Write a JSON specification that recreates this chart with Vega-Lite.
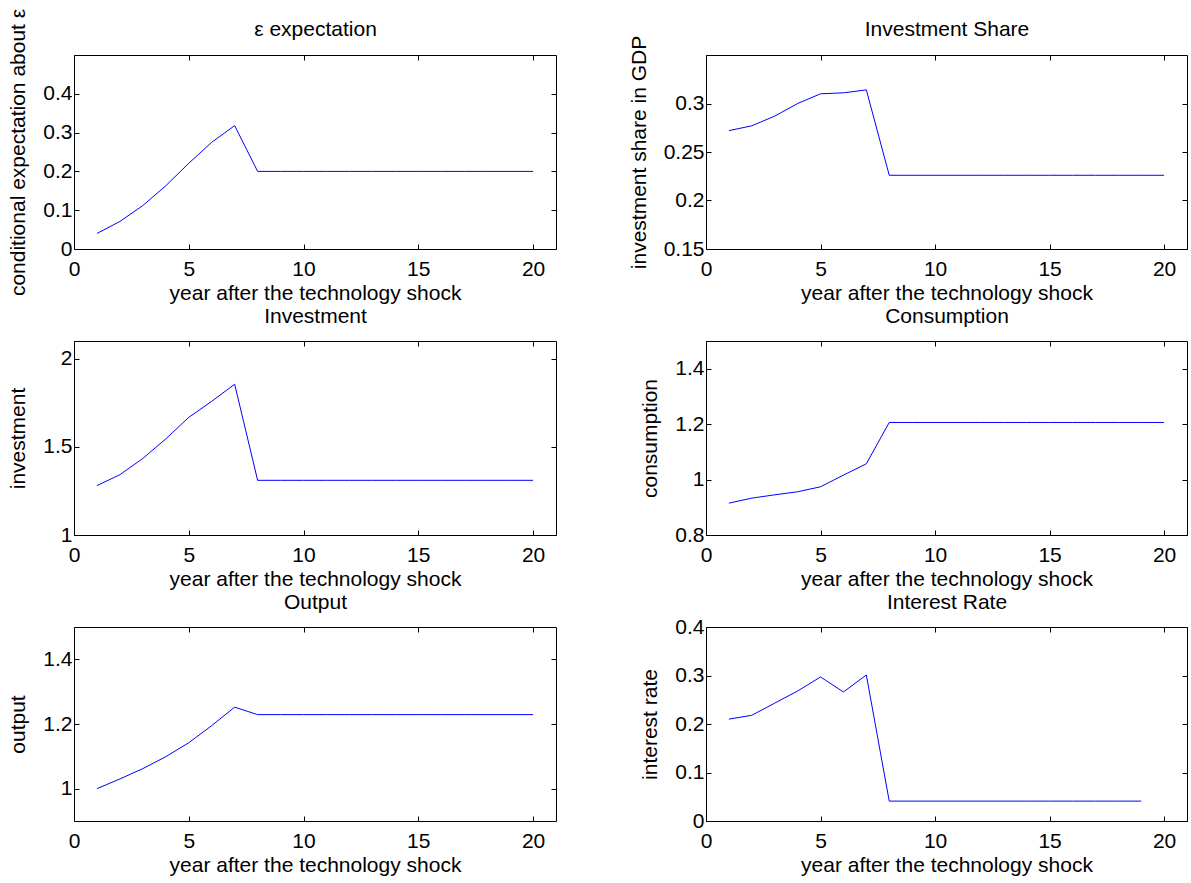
{
  "$schema": "https://vega.github.io/schema/vega-lite/v6.json",
  "background": "white",
  "padding": {"left": 7, "top": 7, "right": 5, "bottom": 5},
  "datasets": {
    "eps": [{"year":1,"v":0.040},{"year":2,"v":0.071},{"year":3,"v":0.112},{"year":4,"v":0.163},{"year":5,"v":0.221},{"year":6,"v":0.275},{"year":7,"v":0.318},{"year":8,"v":0.200},{"year":9,"v":0.200},{"year":10,"v":0.200},{"year":11,"v":0.200},{"year":12,"v":0.200},{"year":13,"v":0.200},{"year":14,"v":0.200},{"year":15,"v":0.200},{"year":16,"v":0.200},{"year":17,"v":0.200},{"year":18,"v":0.200},{"year":19,"v":0.200},{"year":20,"v":0.200}],
    "share": [{"year":1,"v":0.272},{"year":2,"v":0.277},{"year":3,"v":0.287},{"year":4,"v":0.300},{"year":5,"v":0.310},{"year":6,"v":0.311},{"year":7,"v":0.314},{"year":8,"v":0.226},{"year":9,"v":0.226},{"year":10,"v":0.226},{"year":11,"v":0.226},{"year":12,"v":0.226},{"year":13,"v":0.226},{"year":14,"v":0.226},{"year":15,"v":0.226},{"year":16,"v":0.226},{"year":17,"v":0.226},{"year":18,"v":0.226},{"year":19,"v":0.226},{"year":20,"v":0.226}],
    "inv": [{"year":1,"v":1.280},{"year":2,"v":1.342},{"year":3,"v":1.434},{"year":4,"v":1.545},{"year":5,"v":1.667},{"year":6,"v":1.758},{"year":7,"v":1.855},{"year":8,"v":1.310},{"year":9,"v":1.310},{"year":10,"v":1.310},{"year":11,"v":1.310},{"year":12,"v":1.310},{"year":13,"v":1.310},{"year":14,"v":1.310},{"year":15,"v":1.310},{"year":16,"v":1.310},{"year":17,"v":1.310},{"year":18,"v":1.310},{"year":19,"v":1.310},{"year":20,"v":1.310}],
    "cons": [{"year":1,"v":0.915},{"year":2,"v":0.933},{"year":3,"v":0.945},{"year":4,"v":0.956},{"year":5,"v":0.974},{"year":6,"v":1.016},{"year":7,"v":1.057},{"year":8,"v":1.206},{"year":9,"v":1.206},{"year":10,"v":1.206},{"year":11,"v":1.206},{"year":12,"v":1.206},{"year":13,"v":1.206},{"year":14,"v":1.206},{"year":15,"v":1.206},{"year":16,"v":1.206},{"year":17,"v":1.206},{"year":18,"v":1.206},{"year":19,"v":1.206},{"year":20,"v":1.206}],
    "out": [{"year":1,"v":1.000},{"year":2,"v":1.030},{"year":3,"v":1.062},{"year":4,"v":1.099},{"year":5,"v":1.142},{"year":6,"v":1.195},{"year":7,"v":1.252},{"year":8,"v":1.229},{"year":9,"v":1.229},{"year":10,"v":1.229},{"year":11,"v":1.229},{"year":12,"v":1.229},{"year":13,"v":1.229},{"year":14,"v":1.229},{"year":15,"v":1.229},{"year":16,"v":1.229},{"year":17,"v":1.229},{"year":18,"v":1.229},{"year":19,"v":1.229},{"year":20,"v":1.229}],
    "rate": [{"year":1,"v":0.210},{"year":2,"v":0.218},{"year":3,"v":0.243},{"year":4,"v":0.268},{"year":5,"v":0.297},{"year":6,"v":0.266},{"year":7,"v":0.301},{"year":8,"v":0.041},{"year":9,"v":0.041},{"year":10,"v":0.041},{"year":11,"v":0.041},{"year":12,"v":0.041},{"year":13,"v":0.041},{"year":14,"v":0.041},{"year":15,"v":0.041},{"year":16,"v":0.041},{"year":17,"v":0.041},{"year":18,"v":0.041},{"year":19,"v":0.041}]
  },
  "columns": 2,
  "bounds": "flush",
  "spacing": {"row": 92, "column": 150},
  "concat": [
    {
      "width": 482, "height": 194,
      "data": {"name": "eps"},
      "layer": [
        {"mark": {"type": "line", "color": "#0000ff", "strokeWidth": 1},
         "encoding": {
           "x": {"field": "year", "type": "quantitative", "scale": {"domain": [0, 21], "nice": false, "zero": false}, "axis": {"values": [0,5,10,15,20], "title": "year after the technology shock"}},
           "y": {"field": "v", "type": "quantitative", "scale": {"domain": [0, 0.5], "nice": false, "zero": false}, "axis": {"values": [0,0.1,0.2,0.3,0.4], "title": "conditional expectation about ε"}}}},
        {"mark": {"type": "line", "opacity": 0},
         "encoding": {
           "x": {"field": "year", "type": "quantitative", "scale": {"domain": [0, 21], "nice": false, "zero": false}, "axis": {"orient": "top", "values": [0,5,10,15,20], "labels": false, "title": "ε expectation", "titlePadding": 19}},
           "y": {"field": "v", "type": "quantitative", "scale": {"domain": [0, 0.5], "nice": false, "zero": false}, "axis": {"orient": "right", "values": [0,0.1,0.2,0.3,0.4], "labels": false, "title": null}}}}
      ],
      "resolve": {"axis": {"x": "independent", "y": "independent"}}
    },
    {
      "width": 481, "height": 194,
      "data": {"name": "share"},
      "layer": [
        {"mark": {"type": "line", "color": "#0000ff", "strokeWidth": 1},
         "encoding": {
           "x": {"field": "year", "type": "quantitative", "scale": {"domain": [0, 21], "nice": false, "zero": false}, "axis": {"values": [0,5,10,15,20], "title": "year after the technology shock"}},
           "y": {"field": "v", "type": "quantitative", "scale": {"domain": [0.15, 0.35], "nice": false, "zero": false}, "axis": {"values": [0.15,0.2,0.25,0.3], "title": "investment share in GDP"}}}},
        {"mark": {"type": "line", "opacity": 0},
         "encoding": {
           "x": {"field": "year", "type": "quantitative", "scale": {"domain": [0, 21], "nice": false, "zero": false}, "axis": {"orient": "top", "values": [0,5,10,15,20], "labels": false, "title": "Investment Share", "titlePadding": 19}},
           "y": {"field": "v", "type": "quantitative", "scale": {"domain": [0.15, 0.35], "nice": false, "zero": false}, "axis": {"orient": "right", "values": [0.15,0.2,0.25,0.3], "labels": false, "title": null}}}}
      ],
      "resolve": {"axis": {"x": "independent", "y": "independent"}}
    },
    {
      "width": 482, "height": 194,
      "data": {"name": "inv"},
      "layer": [
        {"mark": {"type": "line", "color": "#0000ff", "strokeWidth": 1},
         "encoding": {
           "x": {"field": "year", "type": "quantitative", "scale": {"domain": [0, 21], "nice": false, "zero": false}, "axis": {"values": [0,5,10,15,20], "title": "year after the technology shock"}},
           "y": {"field": "v", "type": "quantitative", "scale": {"domain": [1, 2.1], "nice": false, "zero": false}, "axis": {"values": [1,1.5,2], "title": "investment"}}}},
        {"mark": {"type": "line", "opacity": 0},
         "encoding": {
           "x": {"field": "year", "type": "quantitative", "scale": {"domain": [0, 21], "nice": false, "zero": false}, "axis": {"orient": "top", "values": [0,5,10,15,20], "labels": false, "title": "Investment", "titlePadding": 18}},
           "y": {"field": "v", "type": "quantitative", "scale": {"domain": [1, 2.1], "nice": false, "zero": false}, "axis": {"orient": "right", "values": [1,1.5,2], "labels": false, "title": null}}}}
      ],
      "resolve": {"axis": {"x": "independent", "y": "independent"}}
    },
    {
      "width": 481, "height": 194,
      "data": {"name": "cons"},
      "layer": [
        {"mark": {"type": "line", "color": "#0000ff", "strokeWidth": 1},
         "encoding": {
           "x": {"field": "year", "type": "quantitative", "scale": {"domain": [0, 21], "nice": false, "zero": false}, "axis": {"values": [0,5,10,15,20], "title": "year after the technology shock"}},
           "y": {"field": "v", "type": "quantitative", "scale": {"domain": [0.8, 1.5], "nice": false, "zero": false}, "axis": {"values": [0.8,1,1.2,1.4], "title": "consumption"}}}},
        {"mark": {"type": "line", "opacity": 0},
         "encoding": {
           "x": {"field": "year", "type": "quantitative", "scale": {"domain": [0, 21], "nice": false, "zero": false}, "axis": {"orient": "top", "values": [0,5,10,15,20], "labels": false, "title": "Consumption", "titlePadding": 18}},
           "y": {"field": "v", "type": "quantitative", "scale": {"domain": [0.8, 1.5], "nice": false, "zero": false}, "axis": {"orient": "right", "values": [0.8,1,1.2,1.4], "labels": false, "title": null}}}}
      ],
      "resolve": {"axis": {"x": "independent", "y": "independent"}}
    },
    {
      "width": 482, "height": 194,
      "data": {"name": "out"},
      "layer": [
        {"mark": {"type": "line", "color": "#0000ff", "strokeWidth": 1},
         "encoding": {
           "x": {"field": "year", "type": "quantitative", "scale": {"domain": [0, 21], "nice": false, "zero": false}, "axis": {"values": [0,5,10,15,20], "title": "year after the technology shock"}},
           "y": {"field": "v", "type": "quantitative", "scale": {"domain": [0.9, 1.5], "nice": false, "zero": false}, "axis": {"values": [1,1.2,1.4], "title": "output"}}}},
        {"mark": {"type": "line", "opacity": 0},
         "encoding": {
           "x": {"field": "year", "type": "quantitative", "scale": {"domain": [0, 21], "nice": false, "zero": false}, "axis": {"orient": "top", "values": [0,5,10,15,20], "labels": false, "title": "Output", "titlePadding": 18}},
           "y": {"field": "v", "type": "quantitative", "scale": {"domain": [0.9, 1.5], "nice": false, "zero": false}, "axis": {"orient": "right", "values": [1,1.2,1.4], "labels": false, "title": null}}}}
      ],
      "resolve": {"axis": {"x": "independent", "y": "independent"}}
    },
    {
      "width": 481, "height": 194,
      "data": {"name": "rate"},
      "layer": [
        {"mark": {"type": "line", "color": "#0000ff", "strokeWidth": 1},
         "encoding": {
           "x": {"field": "year", "type": "quantitative", "scale": {"domain": [0, 21], "nice": false, "zero": false}, "axis": {"values": [0,5,10,15,20], "title": "year after the technology shock"}},
           "y": {"field": "v", "type": "quantitative", "scale": {"domain": [0, 0.4], "nice": false, "zero": false}, "axis": {"values": [0,0.1,0.2,0.3,0.4], "title": "interest rate"}}}},
        {"mark": {"type": "line", "opacity": 0},
         "encoding": {
           "x": {"field": "year", "type": "quantitative", "scale": {"domain": [0, 21], "nice": false, "zero": false}, "axis": {"orient": "top", "values": [0,5,10,15,20], "labels": false, "title": "Interest Rate", "titlePadding": 18}},
           "y": {"field": "v", "type": "quantitative", "scale": {"domain": [0, 0.4], "nice": false, "zero": false}, "axis": {"orient": "right", "values": [0,0.1,0.2,0.3,0.4], "labels": false, "title": null}}}}
      ],
      "resolve": {"axis": {"x": "independent", "y": "independent"}}
    }
  ],
  "config": {
    "font": "Liberation Sans",
    "view": {"stroke": "black", "strokeWidth": 1},
    "axis": {"domain": false, "grid": false, "tickSize": -5, "tickColor": "black", "tickWidth": 1, "labelColor": "black", "labelFontSize": 21, "titleFontSize": 21, "titleFontWeight": "normal", "titleColor": "black", "labelFont": "Liberation Sans", "titleFont": "Liberation Sans", "labelFlush": false, "labelOverlap": false, "format": "~g"},
    "axisX": {"labelPadding": 14, "titlePadding": 20, "titleBaseline": "alphabetic"},
    "axisY": {"labelPadding": 7, "titlePadding": 14}
  }
}
